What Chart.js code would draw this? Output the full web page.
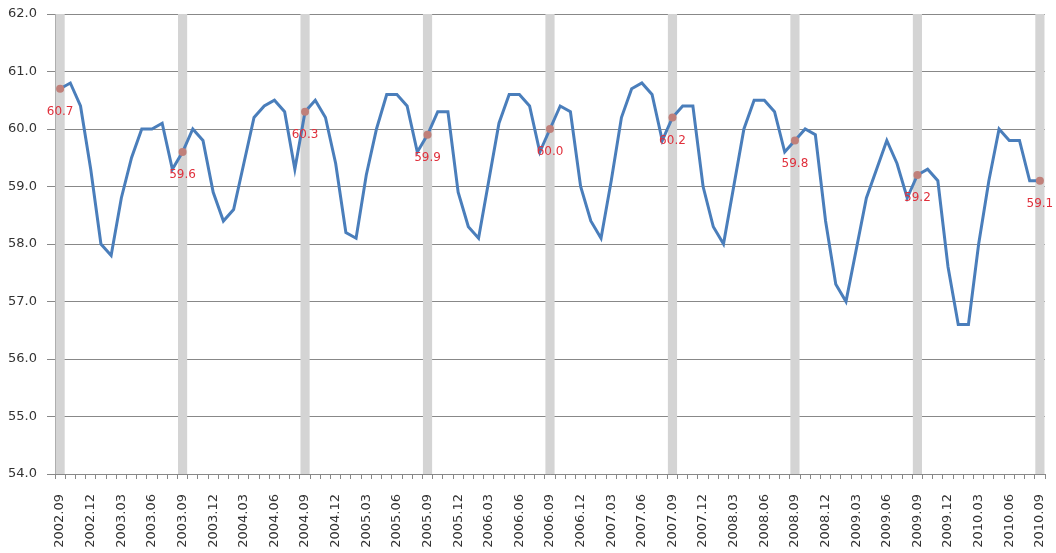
<!DOCTYPE html>
<html>
<head>
<meta charset="utf-8">
<script src="https://cdn.jsdelivr.net/npm/chart.js@4.4.1/dist/chart.umd.min.js"></script>
<style>
  html, body { margin: 0; padding: 0; background: #fff; }
  #wrap { width: 1056px; height: 553px; }
</style>
</head>
<body>
<div id="wrap"><canvas id="rateChart" width="1056" height="553"></canvas></div>
<script>
// months 2002.09 .. 2010.09
const months = [];
for (let y = 2002; y <= 2010; y++) {
    for (let m = 1; m <= 12; m++) {
        if (y === 2002 && m < 9) continue;
        if (y === 2010 && m > 9) continue;
        months.push(y + '.' + String(m).padStart(2, '0'));
    }
}

const rateValues = [
    60.7, 60.8, 60.4, 59.3, 58.0, 57.8, 58.8, 59.5, 60.0, 60.0, 60.1, 59.3,   // 2002.09 - 2003.08
    59.6, 60.0, 59.8, 58.9, 58.4, 58.6, 59.4, 60.2, 60.4, 60.5, 60.3, 59.3,   // 2003.09 - 2004.08
    60.3, 60.5, 60.2, 59.4, 58.2, 58.1, 59.2, 60.0, 60.6, 60.6, 60.4, 59.6,   // 2004.09 - 2005.08
    59.9, 60.3, 60.3, 58.9, 58.3, 58.1, 59.1, 60.1, 60.6, 60.6, 60.4, 59.6,   // 2005.09 - 2006.08
    60.0, 60.4, 60.3, 59.0, 58.4, 58.1, 59.1, 60.2, 60.7, 60.8, 60.6, 59.8,   // 2006.09 - 2007.08
    60.2, 60.4, 60.4, 59.0, 58.3, 58.0, 59.0, 60.0, 60.5, 60.5, 60.3, 59.6,   // 2007.09 - 2008.08
    59.8, 60.0, 59.9, 58.4, 57.3, 57.0, 57.9, 58.8, 59.3, 59.8, 59.4, 58.8,   // 2008.09 - 2009.08
    59.2, 59.3, 59.1, 57.6, 56.6, 56.6, 58.0, 59.1, 60.0, 59.8, 59.8, 59.1,   // 2009.09 - 2010.08
    59.1                                                                      // 2010.09
];

const yMin = 54;
const yMax = 62;

// September markers: dot + red label + gray band
const sepValues = months.map((m, i) => m.endsWith('.09') ? rateValues[i] : null);
const bandValues = months.map(m => m.endsWith('.09') ? [yMin, yMax] : null);

//################### value labels under the september dots ###################
const sepLabelPlugin = {
    id: 'sepLabels',
    afterDatasetsDraw(chart) {
        const ctx = chart.ctx;
        const meta = chart.getDatasetMeta(1);
        ctx.save();
        ctx.font = '12px "DejaVu Sans", sans-serif';
        ctx.fillStyle = '#e0303c';
        ctx.textAlign = 'center';
        ctx.textBaseline = 'middle';
        meta.data.forEach((pt, i) => {
            if (sepValues[i] === null) return;
            ctx.fillText(sepValues[i].toFixed(1), pt.x, pt.y + 23);
        });
        ctx.restore();
    }
};

const chartCtx = document.getElementById('rateChart').getContext('2d');
new Chart(chartCtx, {
    data: {
        labels: months,
        datasets: [
            {
                type: 'line',
                data: rateValues,
                borderColor: '#4a7ebb',
                borderWidth: 3,
                pointRadius: 0,
                tension: 0,
                order: 1
            },
            {
                type: 'line',
                data: sepValues,
                showLine: false,
                pointRadius: 4,
                pointBackgroundColor: '#c0807a',
                pointBorderWidth: 0,
                order: 0
            },
            {
                type: 'bar',
                data: bandValues,
                backgroundColor: '#d4d4d4',
                barPercentage: 0.9,
                categoryPercentage: 1,
                order: 2
            }
        ]
    },
    options: {
        responsive: false,
        animation: false,
        layout: {
            padding: { top: 14, right: 11, left: 8, bottom: 5 }
        },
        plugins: {
            legend: { display: false },
            tooltip: { enabled: false }
        },
        scales: {
            x: {
                offset: true,
                grid: {
                    offset: true,
                    drawOnChartArea: false,
                    drawTicks: true,
                    tickLength: 5,
                    color: '#888'
                },
                border: { color: '#888' },
                ticks: {
                    autoSkip: false,
                    maxRotation: 90,
                    minRotation: 90,
                    padding: 15,
                    color: '#333',
                    font: { family: 'DejaVu Sans', size: 13 },
                    callback: function(value, index) {
                        return index % 3 === 0 ? months[index] : '';
                    }
                },
                afterFit: scale => {
                    scale.height = 74;
                    scale.paddingLeft = 0;
                    scale.paddingRight = 0;
                }
            },
            y: {
                min: yMin,
                max: yMax,
                grid: {
                    color: '#888',
                    tickLength: 8
                },
                border: { color: '#888' },
                ticks: {
                    stepSize: 1,
                    padding: 10,
                    color: '#333',
                    font: { family: 'DejaVu Sans', size: 13 },
                    callback: v => v.toFixed(1)
                },
                afterFit: scale => {
                    scale.width = 47;
                    scale.paddingTop = 0;
                    scale.paddingBottom = 0;
                }
            }
        }
    },
    plugins: [sepLabelPlugin]
});
</script>
</body>
</html>
